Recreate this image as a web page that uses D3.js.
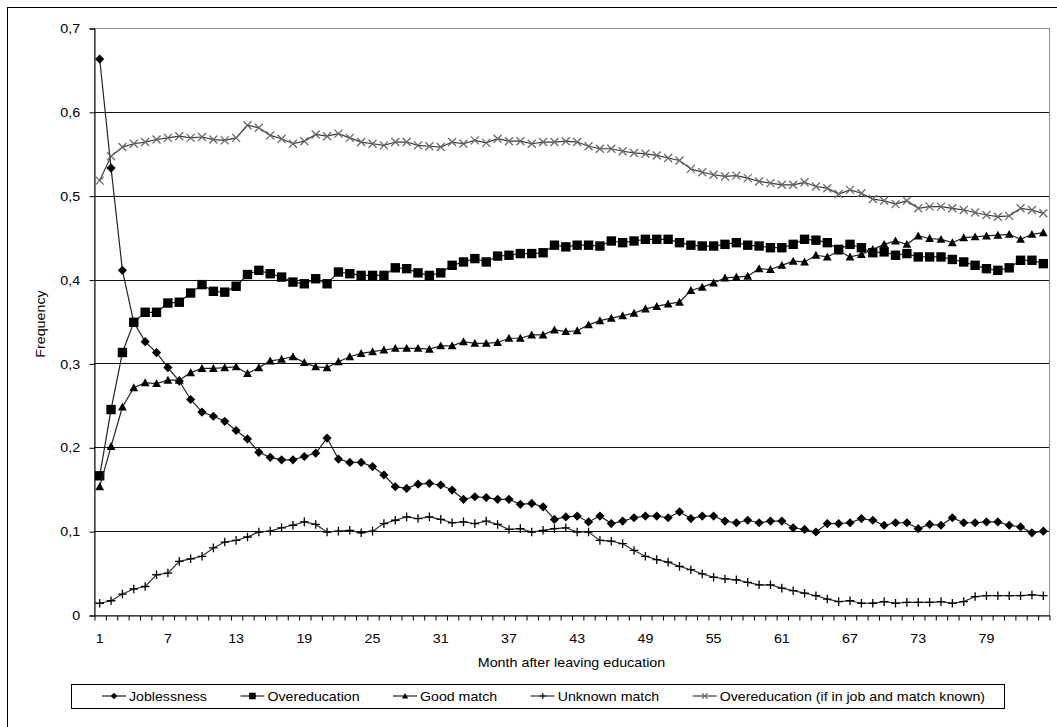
<!DOCTYPE html>
<html>
<head>
<meta charset="utf-8">
<script src="https://cdn.jsdelivr.net/npm/d3@7"></script>
<style>
  body { margin: 0; background: #fff; }
  text { font-family: Arial, "Liberation Sans", sans-serif; fill: #000; }
</style>
</head>
<body>
<div id="chart"></div>
<script>
var w = 1057;
var h = 727;
var plotLeft = 94, plotRight = 1049, plotTop = 28, plotBottom = 615;

// months after leaving education (categories)
var months = d3.range(1, 85);
var monthLabels = [1, 7, 13, 19, 25, 31, 37, 43, 49, 55, 61, 67, 73, 79];
var yTicks = [0, 0.1, 0.2, 0.3, 0.4, 0.5, 0.6, 0.7];

var joblessness = [
  0.663, 0.533, 0.411, 0.349, 0.326, 0.313, 0.295, 0.279, 0.257, 0.242, 0.237, 0.231,
  0.220, 0.210, 0.194, 0.188, 0.185, 0.185, 0.189, 0.193, 0.211, 0.186, 0.182, 0.182,
  0.177, 0.167, 0.153, 0.151, 0.156, 0.157, 0.155, 0.149, 0.138, 0.141, 0.140, 0.138,
  0.138, 0.132, 0.133, 0.129, 0.114, 0.117, 0.118, 0.111, 0.118, 0.109, 0.112, 0.116,
  0.118, 0.118, 0.116, 0.123, 0.115, 0.118, 0.118, 0.112, 0.110, 0.113, 0.110, 0.112,
  0.112, 0.104, 0.102, 0.099, 0.109, 0.109, 0.110, 0.115, 0.113, 0.107, 0.110, 0.110,
  0.103, 0.108, 0.107, 0.116, 0.110, 0.110, 0.111, 0.111, 0.107, 0.105, 0.098, 0.100
];
var overeducation = [
  0.166, 0.245, 0.313, 0.349, 0.361, 0.361, 0.372, 0.373, 0.384, 0.394, 0.386, 0.385,
  0.392, 0.406, 0.411, 0.407, 0.403, 0.397, 0.395, 0.401, 0.395, 0.409, 0.407, 0.405,
  0.405, 0.405, 0.414, 0.413, 0.408, 0.405, 0.408, 0.417, 0.421, 0.425, 0.421, 0.428,
  0.429, 0.431, 0.431, 0.432, 0.441, 0.439, 0.441, 0.441, 0.440, 0.446, 0.444, 0.446,
  0.448, 0.448, 0.448, 0.444, 0.441, 0.440, 0.440, 0.442, 0.444, 0.441, 0.440, 0.438,
  0.438, 0.442, 0.448, 0.447, 0.444, 0.436, 0.442, 0.438, 0.432, 0.433, 0.429, 0.431,
  0.427, 0.427, 0.427, 0.424, 0.421, 0.417, 0.413, 0.411, 0.414, 0.423, 0.423, 0.419
];
var goodMatch = [
  0.153, 0.201, 0.248, 0.271, 0.277, 0.276, 0.280, 0.280, 0.289, 0.294, 0.294, 0.295,
  0.296, 0.288, 0.295, 0.303, 0.305, 0.308, 0.301, 0.296, 0.295, 0.302, 0.308, 0.312,
  0.314, 0.316, 0.318, 0.318, 0.318, 0.317, 0.321, 0.321, 0.326, 0.324, 0.324, 0.325,
  0.330, 0.330, 0.334, 0.334, 0.340, 0.338, 0.339, 0.346, 0.351, 0.354, 0.357, 0.360,
  0.365, 0.368, 0.371, 0.373, 0.387, 0.391, 0.396, 0.402, 0.403, 0.404, 0.413, 0.412,
  0.417, 0.422, 0.421, 0.429, 0.427, 0.434, 0.427, 0.430, 0.436, 0.442, 0.446, 0.442,
  0.452, 0.449, 0.448, 0.444, 0.450, 0.451, 0.452, 0.453, 0.454, 0.448, 0.454, 0.456
];
var unknownMatch = [
  0.014, 0.017, 0.025, 0.031, 0.034, 0.048, 0.050, 0.064, 0.067, 0.070, 0.080, 0.087,
  0.089, 0.093, 0.099, 0.100, 0.104, 0.107, 0.111, 0.108, 0.099, 0.100, 0.101, 0.098,
  0.100, 0.109, 0.113, 0.117, 0.115, 0.117, 0.114, 0.110, 0.111, 0.109, 0.112, 0.108,
  0.102, 0.103, 0.099, 0.101, 0.103, 0.104, 0.099, 0.099, 0.089, 0.088, 0.085, 0.077,
  0.070, 0.066, 0.063, 0.058, 0.054, 0.049, 0.045, 0.043, 0.042, 0.039, 0.036, 0.036,
  0.032, 0.029, 0.026, 0.023, 0.019, 0.016, 0.017, 0.014, 0.014, 0.016, 0.014, 0.015,
  0.015, 0.015, 0.016, 0.014, 0.016, 0.022, 0.023, 0.023, 0.023, 0.023, 0.024, 0.023
];
var overeducationKnown = [
  0.518, 0.547, 0.558, 0.562, 0.564, 0.567, 0.569, 0.571, 0.569, 0.570, 0.567, 0.566,
  0.569, 0.584, 0.581, 0.572, 0.568, 0.562, 0.565, 0.573, 0.571, 0.574, 0.569, 0.564,
  0.562, 0.560, 0.564, 0.564, 0.560, 0.559, 0.558, 0.564, 0.562, 0.566, 0.563, 0.568,
  0.565, 0.565, 0.562, 0.564, 0.564, 0.565, 0.564, 0.559, 0.556, 0.556, 0.553, 0.551,
  0.550, 0.548, 0.545, 0.542, 0.532, 0.528, 0.525, 0.523, 0.524, 0.521, 0.517, 0.515,
  0.513, 0.513, 0.516, 0.511, 0.509, 0.502, 0.507, 0.503, 0.496, 0.494, 0.490, 0.494,
  0.485, 0.487, 0.487, 0.485, 0.483, 0.480, 0.477, 0.475, 0.476, 0.485, 0.483, 0.479
];

var series = [
  { name: "Joblessness", values: joblessness, marker: "diamond", line: "#222", fill: "#000", stroke: "none" },
  { name: "Overeducation", values: overeducation, marker: "square", line: "#222", fill: "#000", stroke: "none" },
  { name: "Good match", values: goodMatch, marker: "triangle", line: "#222", fill: "#000", stroke: "none" },
  { name: "Unknown match", values: unknownMatch, marker: "plus", line: "#333", fill: "none", stroke: "#000" },
  { name: "Overeducation (if in job and match known)", values: overeducationKnown, marker: "x", line: "#3a3a3a", fill: "none", stroke: "#6a6a6a" }
];

// marker shapes, s = half size
function markerPath(type, s) {
  if (type == "diamond") return "M0," + (-s) + "L" + s + ",0L0," + s + "L" + (-s) + ",0Z";
  if (type == "square") return "M" + (-s) + "," + (-s) + "h" + (2 * s) + "v" + (2 * s) + "h" + (-2 * s) + "Z";
  if (type == "triangle") return "M0," + (-s) + "L" + s + "," + (s * 0.8) + "L" + (-s) + "," + (s * 0.8) + "Z";
  if (type == "plus") return "M" + (-s) + ",0H" + s + "M0," + (-s) + "V" + s;
  return "M" + (-s) + "," + (-s) + "L" + s + "," + s + "M" + (-s) + "," + s + "L" + s + "," + (-s);
}
var markerSize = { diamond: 4.6, square: 4.7, triangle: 4.4, plus: 4.3, x: 4 };

var svg = d3.select("#chart")
            .append("svg")
            .attr("width", w)
            .attr("height", h);

// outer chart border (right and bottom fall off the picture)
svg.append("rect")
    .attr("x", 7.5).attr("y", 7.5)
    .attr("width", w + 10).attr("height", h + 10)
    .attr("fill", "none")
    .attr("stroke", "#000");

var xScale = d3.scaleLinear()
        .domain([0.5, months.length + 0.5])
        .range([plotLeft, plotRight]);

var yScale = d3.scaleLinear()
        .domain([0, 0.7])
        .range([plotBottom, plotTop]);

// plot area border
svg.append("rect")
    .attr("x", plotLeft + 0.5).attr("y", plotTop + 0.5)
    .attr("width", plotRight - plotLeft).attr("height", plotBottom - plotTop)
    .attr("fill", "none")
    .attr("stroke", "#8c8c8c");

// gridlines
svg.append("g")
    .selectAll("line")
    .data(yTicks.filter(function (d) { return d > 0 && d < 0.7; }))
    .enter()
    .append("line")
    .attr("x1", plotLeft).attr("x2", plotRight)
    .attr("y1", function (d) { return Math.round(yScale(d)) + 0.5; })
    .attr("y2", function (d) { return Math.round(yScale(d)) + 0.5; })
    .attr("stroke", "#111");

var stretch = "scale(1.1,1)";

// y axis
var yAxis = svg.append("g")
    .attr("transform", "translate(" + (plotLeft + 0.5) + ",0.5)")
    .call(d3.axisLeft(yScale)
        .tickValues(yTicks)
        .tickSize(5)
        .tickPadding(8)
        .tickFormat(function (d) { return d == 0 ? "0" : d3.format(".1f")(d).replace(".", ","); }));
yAxis.select(".domain").attr("stroke", "#000");
yAxis.selectAll(".tick line").attr("stroke", "#000");
yAxis.selectAll("text")
    .attr("font-size", 13)
    .attr("font-family", "Arial, 'Liberation Sans', sans-serif")
    .attr("transform", stretch);

// x axis: ticks between the months
var xAxis = svg.append("g")
    .attr("transform", "translate(0.5," + (plotBottom + 0.5) + ")")
    .call(d3.axisBottom(xScale)
        .tickValues(d3.range(0.5, months.length + 1, 1))
        .tickSize(5)
        .tickSizeOuter(0)
        .tickFormat(""));
xAxis.select(".domain").attr("stroke", "#000");
xAxis.selectAll(".tick line").attr("stroke", "#000");

svg.append("g")
    .selectAll("text")
    .data(monthLabels)
    .enter()
    .append("text")
    .attr("transform", function (d) { return "translate(" + xScale(d) + ",643) " + stretch; })
    .attr("text-anchor", "middle")
    .attr("font-size", 13)
    .text(function (d) { return d; });

// axis titles
svg.append("text")
    .attr("transform", "translate(" + ((plotLeft + plotRight) / 2) + ",667) " + stretch)
    .attr("text-anchor", "middle")
    .attr("font-size", 13)
    .text("Month after leaving education");

svg.append("text")
    .attr("transform", "translate(44.5,324) rotate(-90) " + stretch)
    .attr("text-anchor", "middle")
    .attr("font-size", 13)
    .text("Frequency");

// series lines and markers
var line = d3.line()
    .x(function (d, i) { return xScale(months[i]); })
    .y(function (d) { return yScale(d); });

series.forEach(function (s) {
    var g = svg.append("g");
    g.append("path")
        .datum(s.values)
        .attr("d", line)
        .attr("fill", "none")
        .attr("stroke", s.line)
        .attr("stroke-width", 1.2);
    g.selectAll("path.marker")
        .data(s.values)
        .enter()
        .append("path")
        .attr("class", "marker")
        .attr("transform", function (d, i) { return "translate(" + xScale(months[i]) + "," + yScale(d) + ")"; })
        .attr("d", markerPath(s.marker, markerSize[s.marker]))
        .attr("fill", s.fill)
        .attr("stroke", s.stroke)
        .attr("stroke-width", 1.3);
});

// legend: entries spread evenly inside the box, like Excel does
var legendY = 696;
svg.append("rect")
    .attr("x", 71.5).attr("y", 684.5)
    .attr("width", 933).attr("height", 24)
    .attr("fill", "#fff")
    .attr("stroke", "#000");

var legend = svg.selectAll("g.legend")
    .data(series)
    .enter()
    .append("g")
    .attr("class", "legend");

legend.append("line")
    .attr("x1", 0).attr("x2", 24)
    .attr("stroke", function (d) { return d.line; })
    .attr("stroke-width", 1.2);
legend.append("path")
    .attr("transform", "translate(12,0)")
    .attr("d", function (d) { return markerPath(d.marker, markerSize[d.marker] * 0.7); })
    .attr("fill", function (d) { return d.fill; })
    .attr("stroke", function (d) { return d.stroke; })
    .attr("stroke-width", 1.2);
legend.append("text")
    .attr("transform", "translate(27,4.5) scale(1.05,1)")
    .attr("font-size", 13.5)
    .text(function (d) { return d.name; });

var legendStart = 102, legendEnd = 985;
var widths = [];
legend.each(function () {
    widths.push(27 + d3.select(this).select("text").node().getComputedTextLength() * 1.05);
});
var legendGap = (legendEnd - legendStart - d3.sum(widths)) / (widths.length - 1);
var lx = legendStart;
legend.each(function (d, i) {
    d3.select(this).attr("transform", "translate(" + lx + "," + legendY + ")");
    lx += widths[i] + legendGap;
});
</script>
</body>
</html>
